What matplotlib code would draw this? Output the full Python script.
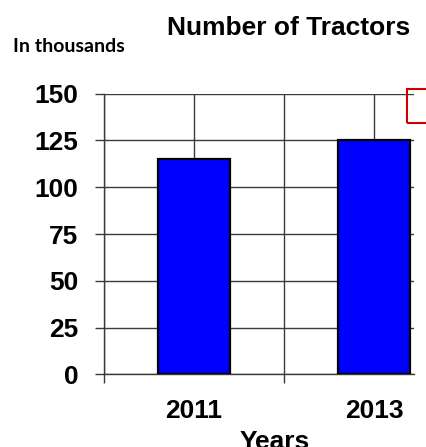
import matplotlib.pyplot as plt
import matplotlib.patches as mpatches

years = ['2011', '2013']
tractors = [115, 125]
y_ticks = [0, 25, 50, 75, 100, 125, 150]

line_col = '#3a3a3a'

fig = plt.figure(figsize=(4.27, 4.47), dpi=100)
ax = fig.add_axes([104 / 427, 72.7 / 447, 310 / 427, 280.6 / 447])

x = list(range(len(years)))
ax.bar(x, tractors, width=0.4, color='#0000ff', edgecolor='black', linewidth=1.6, zorder=3)

ax.set_xlim(-0.5, -0.5 + 310 / 180)
ax.set_ylim(0, 150)
ax.set_yticks(y_ticks)
ax.set_xticks(x, years)
ax.set_xticks([-0.5, 0.5], minor=True)

for s in ['top', 'right']:
    ax.spines[s].set_visible(False)
for s in ['left', 'bottom']:
    ax.spines[s].set_color(line_col)
    ax.spines[s].set_linewidth(1.0)

ax.grid(True, which='major', color=line_col, linewidth=1.0, zorder=0)
ax.grid(True, which='minor', axis='x', color=line_col, linewidth=1.0, zorder=0)

ax.tick_params(axis='y', direction='out', length=6.5, width=1.0, color=line_col, pad=12,
               labelsize=19)
ax.tick_params(axis='x', which='major', length=0, pad=18, labelsize=19)
ax.tick_params(axis='x', which='minor', direction='out', length=6.5, width=1.0, color=line_col)
for lab in ax.get_xticklabels() + ax.get_yticklabels():
    lab.set_fontfamily('Liberation Sans')
    lab.set_fontweight('bold')

ax.set_xlabel('Years', fontsize=19, fontweight='bold', family='Liberation Sans')
ax.xaxis.set_label_coords((275 - 104) / 310, -0.2)

fig.text(289 / 427, 1 - 28 / 447, 'Number of Tractors', ha='center', va='center',
         fontsize=19, fontweight='bold', family='Liberation Sans')
fig.text(13 / 427, 1 - 46 / 447, 'In thousands', ha='left', va='center',
         fontsize=14, fontweight='bold', family='Lato')

# legend frame, mostly cut off at the right edge
fig.patches.append(mpatches.Rectangle((406.7 / 427, 324.3 / 447), 0.3, 33.4 / 447,
                                      transform=fig.transFigure, fill=False,
                                      edgecolor='#cc0000', linewidth=1.5))

fig.savefig('out.png', dpi=100)
